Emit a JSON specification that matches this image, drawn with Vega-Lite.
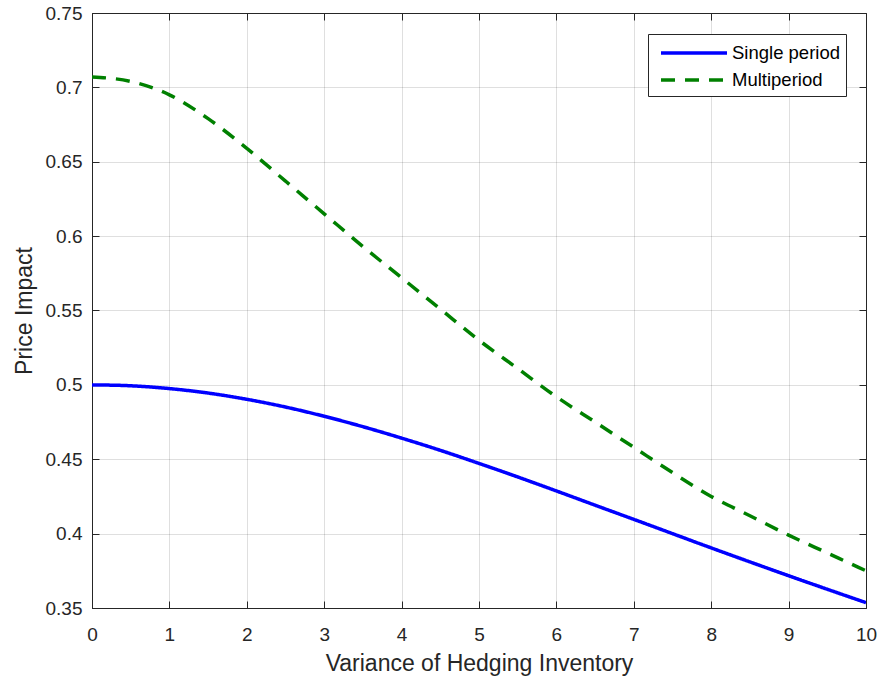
{
  "$schema": "https://vega.github.io/schema/vega-lite/v6.json",
  "width": 774,
  "height": 595,
  "autosize": {"type": "none"},
  "padding": {"left": 92, "top": 13, "right": 12, "bottom": 72},
  "background": "white",
  "config": {
    "font": "Liberation Sans",
    "view": {"stroke": "#262626", "strokeWidth": 1}
  },
  "data": {
    "values": [
      {"x": 0, "y": 0.5, "s": "Single period"},
      {"x": 0.5, "y": 0.4994, "s": "Single period"},
      {"x": 1, "y": 0.4975, "s": "Single period"},
      {"x": 1.5, "y": 0.4945, "s": "Single period"},
      {"x": 2, "y": 0.4903, "s": "Single period"},
      {"x": 2.5, "y": 0.4851, "s": "Single period"},
      {"x": 3, "y": 0.4789, "s": "Single period"},
      {"x": 3.5, "y": 0.4719, "s": "Single period"},
      {"x": 4, "y": 0.4642, "s": "Single period"},
      {"x": 4.5, "y": 0.456, "s": "Single period"},
      {"x": 5, "y": 0.4472, "s": "Single period"},
      {"x": 5.5, "y": 0.4381, "s": "Single period"},
      {"x": 6, "y": 0.4287, "s": "Single period"},
      {"x": 6.5, "y": 0.4191, "s": "Single period"},
      {"x": 7, "y": 0.4096, "s": "Single period"},
      {"x": 7.5, "y": 0.4, "s": "Single period"},
      {"x": 8, "y": 0.3904, "s": "Single period"},
      {"x": 8.5, "y": 0.381, "s": "Single period"},
      {"x": 9, "y": 0.3717, "s": "Single period"},
      {"x": 9.5, "y": 0.3626, "s": "Single period"},
      {"x": 10, "y": 0.3536, "s": "Single period"},
      {"x": 0, "y": 0.707, "s": "Multiperiod"},
      {"x": 0.5, "y": 0.704, "s": "Multiperiod"},
      {"x": 1, "y": 0.695, "s": "Multiperiod"},
      {"x": 1.5, "y": 0.679, "s": "Multiperiod"},
      {"x": 2, "y": 0.659, "s": "Multiperiod"},
      {"x": 2.5, "y": 0.637, "s": "Multiperiod"},
      {"x": 3, "y": 0.615, "s": "Multiperiod"},
      {"x": 3.5, "y": 0.593, "s": "Multiperiod"},
      {"x": 4, "y": 0.572, "s": "Multiperiod"},
      {"x": 4.5, "y": 0.551, "s": "Multiperiod"},
      {"x": 5, "y": 0.53, "s": "Multiperiod"},
      {"x": 5.5, "y": 0.511, "s": "Multiperiod"},
      {"x": 6, "y": 0.492, "s": "Multiperiod"},
      {"x": 6.5, "y": 0.475, "s": "Multiperiod"},
      {"x": 7, "y": 0.458, "s": "Multiperiod"},
      {"x": 7.5, "y": 0.441, "s": "Multiperiod"},
      {"x": 8, "y": 0.425, "s": "Multiperiod"},
      {"x": 8.5, "y": 0.412, "s": "Multiperiod"},
      {"x": 9, "y": 0.399, "s": "Multiperiod"},
      {"x": 9.5, "y": 0.387, "s": "Multiperiod"},
      {"x": 10, "y": 0.375, "s": "Multiperiod"}
    ]
  },
  "layer": [
    {
      "mark": {"type": "line", "strokeWidth": 3.5, "interpolate": "monotone", "clip": true},
      "encoding": {
        "x": {
          "field": "x", "type": "quantitative",
          "scale": {"domain": [0, 10], "nice": false, "zero": false},
          "axis": {
            "title": "Variance of Hedging Inventory",
            "values": [0, 1, 2, 3, 4, 5, 6, 7, 8, 9, 10],
            "format": "d",
            "orient": "bottom",
            "labelFlush": false,
            "grid": true, "gridColor": "#262626", "gridOpacity": 0.15,
            "domainColor": "#262626",
            "tickColor": "#262626", "tickSize": -7, "tickWidth": 1, "tickOpacity": 1,
            "labelFont": "Liberation Sans", "labelFontSize": 19, "labelColor": "#262626", "labelPadding": 24,
            "titleFont": "Liberation Sans", "titleFontSize": 23, "titleFontWeight": "normal", "titleColor": "#262626", "titlePadding": 8
          }
        },
        "y": {
          "field": "y", "type": "quantitative",
          "scale": {"domain": [0.35, 0.75], "nice": false, "zero": false},
          "axis": {
            "title": "Price Impact",
            "values": [0.35, 0.4, 0.45, 0.5, 0.55, 0.6, 0.65, 0.7, 0.75],
            "format": "~r",
            "labelFlush": false,
            "grid": true, "gridColor": "#262626", "gridOpacity": 0.15,
            "domainColor": "#262626",
            "tickColor": "#262626", "tickSize": -7, "tickWidth": 1, "tickOpacity": 1,
            "labelFont": "Liberation Sans", "labelFontSize": 19, "labelColor": "#262626", "labelPadding": 17,
            "titleFont": "Liberation Sans", "titleFontSize": 23, "titleFontWeight": "normal", "titleColor": "#262626", "titlePadding": 9
          }
        },
        "color": {
          "field": "s", "type": "nominal",
          "scale": {"domain": ["Single period", "Multiperiod"], "range": ["#0000ff", "#008000"]},
          "legend": {
            "title": null,
            "orient": "none", "legendX": 556, "legendY": 21,
            "symbolType": "M-3,0H3", "symbolSize": 484, "symbolStrokeWidth": 3.5,
            "symbolOffset": 27,
            "labelFont": "Liberation Sans", "labelFontSize": 18.5, "labelColor": "#000000",
            "strokeColor": "#262626", "fillColor": "white", "padding": 6, "rowPadding": 4,
            "labelOffset": 25
          }
        },
        "strokeDash": {
          "field": "s", "type": "nominal",
          "scale": {"domain": ["Single period", "Multiperiod"], "range": [[1, 0], [14, 10]]},
          "legend": null
        }
      }
    },
    {
      "mark": {"type": "line", "strokeOpacity": 0},
      "encoding": {
        "x": {
          "field": "x", "type": "quantitative",
          "scale": {"domain": [0, 10], "nice": false, "zero": false},
          "axis": {"orient": "top", "title": null, "labels": false, "grid": false, "domain": false,
                   "values": [0, 1, 2, 3, 4, 5, 6, 7, 8, 9, 10], "tickColor": "#262626", "tickSize": -7, "tickWidth": 1}
        },
        "y": {
          "field": "y", "type": "quantitative",
          "scale": {"domain": [0.35, 0.75], "nice": false, "zero": false},
          "axis": {"orient": "right", "title": null, "labels": false, "grid": false, "domain": false,
                   "values": [0.35, 0.4, 0.45, 0.5, 0.55, 0.6, 0.65, 0.7, 0.75], "tickColor": "#262626", "tickSize": -7, "tickWidth": 1}
        },
        "detail": {"field": "s"}
      }
    }
  ],
  "resolve": {"axis": {"x": "independent", "y": "independent"}}
}
